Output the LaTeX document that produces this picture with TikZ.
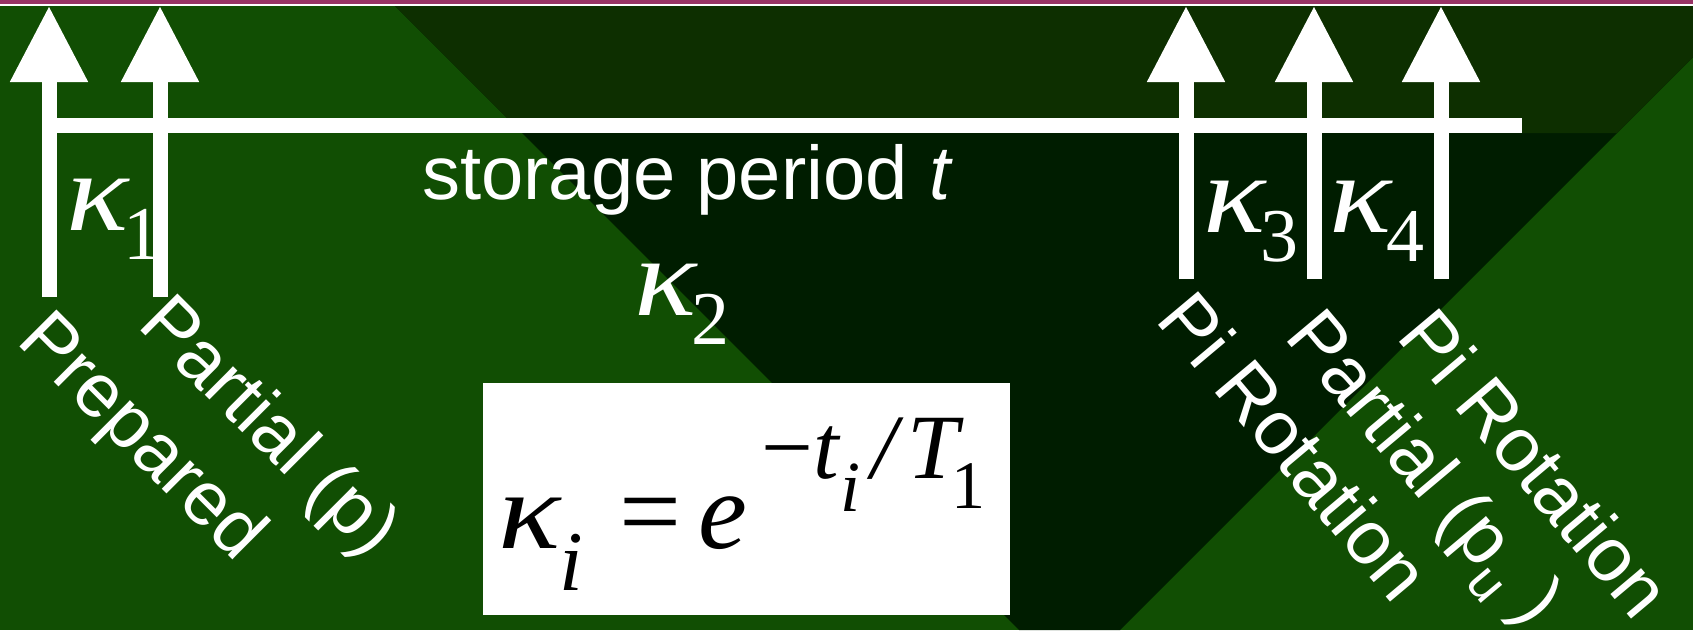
\documentclass[tikz,border=0pt]{standalone}
\usepackage{fontspec}
\newfontfamily\arialfont{Liberation Sans}
\newfontfamily\timesfont{Liberation Serif}
\usetikzlibrary{arrows.meta}
\definecolor{bggreen}{RGB}{17,78,3}
\definecolor{bgmid}{RGB}{13,47,0}
\definecolor{bgdark}{RGB}{0,29,0}
\definecolor{topbar}{HTML}{993366}
\newcommand{\kapsub}[1]{\scalebox{1.16}[1]{κ}\kern-5pt\raisebox{-29pt}{\upshape\fontsize{76}{76}\selectfont #1}}
\newcommand{\eqsize}[1]{\fontsize{#1}{#1}\selectfont}
\tikzset{
  pulse/.style={white, line width=15pt, -{Triangle[length=76pt,width=74pt]}},
  timeline/.style={white, line width=15pt},
  steplabel/.style={white, font=\arialfont\fontsize{76}{76}\selectfont, rotate=-45, anchor=north west, inner sep=0pt},
  kappalabel/.style={white, font=\timesfont\itshape\fontsize{112}{112}\selectfont, inner sep=0pt, anchor=base west},
  eqpart/.style={black, font=\timesfont\itshape, inner sep=0pt, anchor=base},
}
\begin{document}
\begin{tikzpicture}[x=1pt, y=-1pt]
    \useasboundingbox (0,0) rectangle (1693,630);
    % 背景
    \fill[bggreen] (0,0) rectangle (1693,630);
    \fill[bgdark] (389,0) -- (1693,0) -- (1693,57) -- (1120,630) -- (1019,630) -- cycle;
    \fill[bgmid] (389,0) -- (1693,0) -- (1693,57) -- (1617,133) -- (522,133) -- cycle;
    \fill[topbar] (0,0) rectangle (1693,3.5);
    \fill[white] (0,3.5) rectangle (1693,6);

    % パルスの矢印
    \coordinate (prepB) at (49,297);   \coordinate (prepT) at (49,6);
    \coordinate (partB) at (160,297);  \coordinate (partT) at (160,6);
    \coordinate (piaB) at (1186,279);  \coordinate (piaT) at (1186,6);
    \coordinate (partuB) at (1314,279); \coordinate (partuT) at (1314,6);
    \coordinate (pibB) at (1441,279);  \coordinate (pibT) at (1441,6);
    \draw[pulse] (prepB) -- (prepT);
    \draw[pulse] (partB) -- (partT);
    \draw[pulse] (piaB) -- (piaT);
    \draw[pulse] (partuB) -- (partuT);
    \draw[pulse] (pibB) -- (pibT);

    % 時間軸
    \coordinate (tstart) at (49,125.5);
    \coordinate (tend) at (1522,125.5);
    \draw[timeline] (tstart) -- (tend);
    \node[white, font=\arialfont\fontsize{76}{76}\selectfont, anchor=base west, inner sep=0pt] (storage) at (422,199) {storage period \textit{t}};

    % 減衰係数
    \node[kappalabel] (k1) at (66,230) {\kapsub{1}};
    \node[kappalabel] (k2) at (634,315) {\kapsub{2}};
    \node[kappalabel] (k3) at (1203,232) {\kapsub{3}};
    \node[kappalabel] (k4) at (1329,232) {\kapsub{4}};

    % 斜めのラベル
    \node[steplabel] (lprep) at (54,303) {Prepared};
    \node[steplabel] (lpart) at (175,287) {Partial (p)};
    \node[steplabel, rotate=-5] (lpia) at (1197,285) {Pi Rotation};
    \node[steplabel, rotate=-5] (lpartu) at (1326,302) {Partial (p\textsubscript{u} )};
    \node[steplabel, rotate=-5] (lpib) at (1438,302) {Pi Rotation};

    % 式
    \fill[white] (483,383) rectangle (1010,615);
    \node[eqpart] (eqk) at (530,548) {\eqsize{110}\scalebox{1.18}[1]{κ}};
    \node[eqpart] (eqki) at (571,590) {\eqsize{85}i};
    \node[eqpart] (eqeq) at (651,548) {\eqsize{110}\upshape =};
    \node[eqpart] (eqe) at (723,548) {\eqsize{110}e};
    \node[eqpart] (eqm) at (787,478) {\eqsize{92}\upshape −};
    \node[eqpart] (eqt) at (826,478) {\eqsize{92}t};
    \node[eqpart] (eqti) at (850,511) {\eqsize{72}i};
    \node[eqpart] (eqsl) at (884,478) {\eqsize{92}/};
    \node[eqpart] (eqT) at (933,478) {\eqsize{92}T};
    \node[eqpart] (eqone) at (968,508) {\eqsize{68}\upshape 1};
\end{tikzpicture}
\end{document}
